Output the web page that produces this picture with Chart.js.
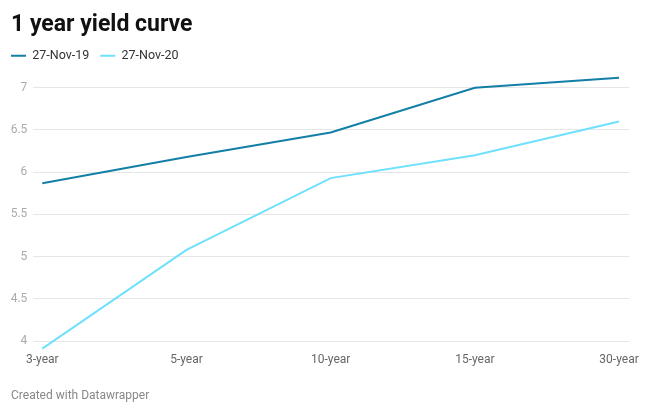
<!DOCTYPE html>
<html>
<head>
<meta charset="utf-8">
<script src="https://cdn.jsdelivr.net/npm/chart.js@4"></script>
<style>
  html, body { margin: 0; padding: 0; background: #fff; }
  #wrap { width: 650px; height: 416px; position: relative; }
</style>
</head>
<body>
<div id="wrap"><canvas id="c"></canvas></div>
<script>
const categories = ['3-year', '5-year', '10-year', '15-year', '30-year'];
const seriesNames = ['27-Nov-19', '27-Nov-20'];
const nov19 = [5.87, 6.18, 6.47, 7.00, 7.12];
const nov20 = [3.91, 5.08, 5.93, 6.20, 6.60];
const yTicks = [4, 4.5, 5, 5.5, 6, 6.5, 7];

const toPoints = arr => arr.map((v, i) => ({ x: i, y: v }));
const FONT = 'Roboto';

const legendTweak = {
  id: 'legendTweak',
  beforeInit(chart) {
    const lg = chart.legend;
    if (!lg) return;
    const origFit = lg.fit.bind(lg);
    lg.fit = function () { origFit(); this.height += 3; };
  },
  afterLayout(chart) {
    const lg = chart.legend;
    if (!lg) return;
    lg.left -= 11; lg.right -= 11;
  }
};

new Chart(document.getElementById('c'), {
  type: 'line',
  data: {
    datasets: [
      { label: seriesNames[0], data: toPoints(nov19), borderColor: '#137fa7', backgroundColor: '#137fa7', borderWidth: 2, pointRadius: 0, tension: 0 },
      { label: seriesNames[1], data: toPoints(nov20), borderColor: '#6fe0fd', backgroundColor: '#6fe0fd', borderWidth: 2, pointRadius: 0, tension: 0 }
    ]
  },
  plugins: [legendTweak],
  options: {
    responsive: true,
    maintainAspectRatio: false,
    animation: false,
    layout: { padding: { left: 11, right: 21, top: 0, bottom: 0 } },
    plugins: {
      title: {
        display: true, text: '1 year yield curve', align: 'start', color: '#111',
        font: { family: FONT, size: 23, weight: 'bold' }, padding: { top: 11, bottom: 0 }
      },
      subtitle: {
        display: true, position: 'bottom', text: 'Created with Datawrapper', align: 'start', color: '#888',
        font: { family: FONT, size: 12 }, padding: { top: 19, bottom: 13 }
      },
      legend: {
        display: true, align: 'start',
        labels: {
          usePointStyle: true, pointStyle: 'line', pointStyleWidth: 15,
          color: '#333', font: { family: FONT, size: 12.5 }, padding: 11
        }
      },
      tooltip: { enabled: false }
    },
    scales: {
      x: {
        type: 'linear', min: -0.0624, max: 4.069,
        grid: { display: false, drawTicks: false }, border: { display: false },
        ticks: {
          stepSize: 1, includeBounds: false, maxRotation: 0, autoSkip: false, padding: 2,
          color: '#666', font: { family: FONT, size: 12 },
          callback: v => categories[v] !== undefined ? categories[v] : ''
        }
      },
      y: {
        min: 3.88, max: 7.15,
        afterBuildTicks: s => { s.ticks = yTicks.map(v => ({ value: v })); },
        afterFit: s => { s.width = 22.3; },
        grid: { color: '#e6e6e6', drawTicks: false, lineWidth: 1 }, border: { display: false },
        ticks: { padding: 6, color: '#aaa', font: { family: FONT, size: 12 }, callback: v => String(v) }
      }
    }
  }
});
</script>
</body>
</html>
